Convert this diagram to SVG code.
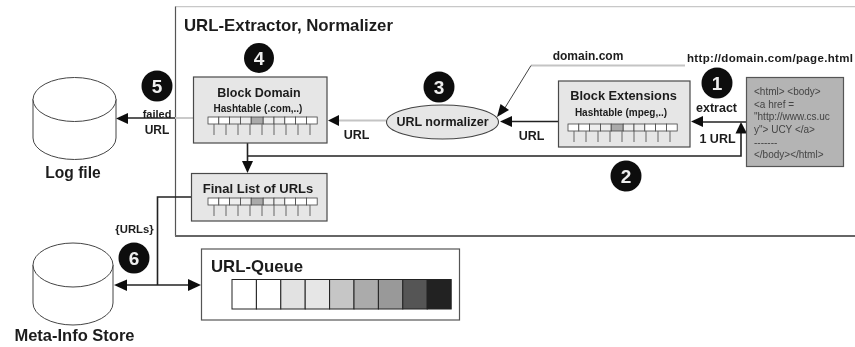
<svg xmlns="http://www.w3.org/2000/svg" width="855" height="347" viewBox="0 0 855 347">
<style>
text{font-family:"Liberation Sans",Arial,sans-serif;font-weight:bold;fill:#1c1c1c}
.box{fill:#e6e6e6;stroke:#4a4a4a;stroke-width:1.2}
.cyl{fill:#fff;stroke:#444;stroke-width:1}
.dk{fill:none;stroke:#222;stroke-width:1.6}
.lt{fill:none;stroke:#c4c4c4;stroke-width:1.8}
.ah{fill:#111;stroke:none}
.cell{stroke:#444;stroke-width:.8;fill:#fff}
.tick{stroke:#666;stroke-width:1}
.num{fill:#111}
.numt{fill:#eee;font-size:19px;text-anchor:middle}
.t{font-size:12.5px;text-anchor:middle}
.h{font-size:10px;text-anchor:middle}
.ht{font-size:10px;font-weight:normal;fill:#444}
</style>
<defs>
<filter id="soft" x="0" y="0" width="100%" height="100%"><feGaussianBlur stdDeviation="0.4"/></filter>
<g id="ht">
<rect class="cell" x="0" y="0" width="10.800" height="7"/><rect class="cell" x="10.800" y="0" width="10.800" height="7"/><rect class="cell" x="21.600" y="0" width="10.800" height="7" style="fill:#eee"/><rect class="cell" x="32.400" y="0" width="10.800" height="7" style="fill:#eee"/><rect class="cell" x="43.200" y="0" width="12" height="7" style="fill:#aaa"/><rect class="cell" x="55.200" y="0" width="10.800" height="7" style="fill:#eee"/><rect class="cell" x="66" y="0" width="10.800" height="7" style="fill:#eee"/><rect class="cell" x="76.800" y="0" width="10.800" height="7"/><rect class="cell" x="87.600" y="0" width="10.800" height="7"/><rect class="cell" x="98.400" y="0" width="10.800" height="7"/>
<path class="tick" d="M6 7v11M18 7v11M30 7v11M42 7v11M54 7v11M66 7v11M78 7v11M90 7v11M102 7v11" fill="none"/>
</g>
</defs>
<rect width="855" height="347" fill="#fff"/>
<g filter="url(#soft)">
<g id="frame">
<path d="M175.500 6.500H855" fill="none" stroke="#c8c8c8" stroke-width="1.600"/>
<path d="M175.500 6.500V236" fill="none" stroke="#555" stroke-width="1.200"/>
<path d="M175 236H855" fill="none" stroke="#666" stroke-width="1.800"/>
<text x="184" y="31" font-size="17" textLength="209" lengthAdjust="spacingAndGlyphs">URL-Extractor, Normalizer</text>
</g>
<g id="connectors">
<path class="lt" d="M193 118H175"/>
<path class="dk" d="M175 118H122"/>
<path class="ah" d="M116 118.500L128 113V124Z"/>
<path class="lt" d="M386 120.500H338"/>
<path class="ah" d="M328 120.500L339 115V126Z"/>
<path class="dk" d="M247.500 143V164"/>
<path class="ah" d="M247.500 173L242 161H253Z"/>
<path class="dk" d="M247.500 156H741V130"/>
<path class="ah" d="M741 122L735.500 133.500H747Z"/>
<path class="dk" d="M746 122H698"/>
<path class="ah" d="M691 121.500L703 116V127Z"/>
<path class="dk" d="M558 121.500H508"/>
<path class="ah" d="M500 121.500L512 116V127Z"/>
<path class="lt" d="M685 65.500H531"/>
<path d="M531 65.500L503 111" fill="none" stroke="#444" stroke-width="1"/>
<path class="ah" d="M497 117L500.500 104L509 110Z"/>
<path class="dk" d="M191 197H157.500V285"/>
<path class="dk" d="M122 285H195"/>
<path class="ah" d="M114 285L127 279.500V291Z"/>
<path class="ah" d="M201 285L188 279V291Z"/>
</g>
<g id="log-file">
<path class="cyl" d="M33 99V138A41.500 21.500 0 0 0 116 138V99"/>
<ellipse class="cyl" cx="74.500" cy="99.500" rx="41.500" ry="22"/>
<text x="73" y="178" font-size="15.600" text-anchor="middle">Log file</text>
</g>
<g id="meta-info-store">
<path class="cyl" d="M33 265V303A40 22 0 0 0 113 303V265"/>
<ellipse class="cyl" cx="73" cy="265" rx="40" ry="22"/>
<text x="74.500" y="341" font-size="16.500" text-anchor="middle">Meta-Info Store</text>
</g>
<g id="block-domain">
<rect class="box" x="193.500" y="77" width="133.500" height="66"/>
<text class="t" x="259" y="97">Block Domain</text>
<text class="h" x="258" y="112">Hashtable (.com,..)</text>
<use href="#ht" x="208" y="117"/>
</g>
<g id="final-list">
<rect class="box" x="191.500" y="173.500" width="135.500" height="47.500"/>
<text class="t" x="258" y="193" style="font-size:13px">Final List of URLs</text>
<use href="#ht" x="208" y="198"/>
</g>
<g id="block-extensions">
<rect class="box" x="558.500" y="81" width="131.500" height="66"/>
<text class="t" x="623.500" y="100" style="font-size:12.800px">Block Extensions</text>
<text class="h" x="621" y="116">Hashtable (mpeg,..)</text>
<use href="#ht" x="568" y="124"/>
</g>
<g id="url-normalizer">
<ellipse cx="442.500" cy="122" rx="56" ry="17" fill="#e6e6e6" stroke="#444" stroke-width="1.100"/>
<text class="t" x="442.500" y="126">URL normalizer</text>
</g>
<g id="html-page">
<rect x="746.500" y="77.500" width="97" height="89" fill="#b4b4b4" stroke="#555" stroke-width="1.200"/>
<text class="ht" x="754" y="95">&lt;html&gt; &lt;body&gt;</text>
<text class="ht" x="754" y="108">&lt;a href =</text>
<text class="ht" x="754" y="120">"http://www.cs.uc</text>
<text class="ht" x="754" y="133">y"&gt; UCY &lt;/a&gt;</text>
<text class="ht" x="754" y="146">-------</text>
<text class="ht" x="754" y="158">&lt;/body&gt;&lt;/html&gt;</text>
</g>
<g id="url-queue">
<rect x="201.500" y="249" width="258" height="71" fill="#fff" stroke="#555" stroke-width="1.200"/>
<text x="211" y="272" font-size="17" textLength="92" lengthAdjust="spacingAndGlyphs">URL-Queue</text>
<g stroke="#222" stroke-width="1">
<rect x="232" y="279.500" width="24.400" height="29.500" fill="#fff"/>
<rect x="256.400" y="279.500" width="24.400" height="29.500" fill="#fff"/>
<rect x="280.800" y="279.500" width="24.400" height="29.500" fill="#e2e2e2"/>
<rect x="305.200" y="279.500" width="24.400" height="29.500" fill="#e6e6e6"/>
<rect x="329.600" y="279.500" width="24.400" height="29.500" fill="#c6c6c6"/>
<rect x="354" y="279.500" width="24.400" height="29.500" fill="#ababab"/>
<rect x="378.400" y="279.500" width="24.400" height="29.500" fill="#999"/>
<rect x="402.800" y="279.500" width="24.400" height="29.500" fill="#555"/>
<rect x="427.200" y="279.500" width="24" height="29.500" fill="#222"/>
</g>
</g>
<g id="badges">
<circle class="num" cx="259" cy="58" r="15"/><text class="numt" x="259" y="64.500">4</text>
<circle class="num" cx="157" cy="86" r="15.500"/><text class="numt" x="157" y="92.500">5</text>
<circle class="num" cx="439" cy="87" r="15.500"/><text class="numt" x="439" y="93.500">3</text>
<circle class="num" cx="717" cy="83" r="15.500"/><text class="numt" x="717" y="89.500">1</text>
<circle class="num" cx="626" cy="176" r="15.500"/><text class="numt" x="626" y="182.500">2</text>
<circle class="num" cx="134" cy="258" r="15.500"/><text class="numt" x="134" y="264.500">6</text>
</g>
<g id="labels">
<text class="t" x="157" y="118" style="font-size:11px">failed</text>
<text class="t" x="157" y="134" style="font-size:12px">URL</text>
<text class="t" x="356.500" y="139">URL</text>
<text class="t" x="531.500" y="140">URL</text>
<text class="t" x="588" y="60" style="font-size:12px">domain.com</text>
<text class="t" x="770" y="62" style="font-size:11.500px" textLength="166" lengthAdjust="spacing">http://domain.com/page.html</text>
<text class="t" x="716.500" y="112">extract</text>
<text class="t" x="717.500" y="143">1 URL</text>
<text class="t" x="134.500" y="233" style="font-size:11.300px">{URLs}</text>
</g>
</g>
</svg>
